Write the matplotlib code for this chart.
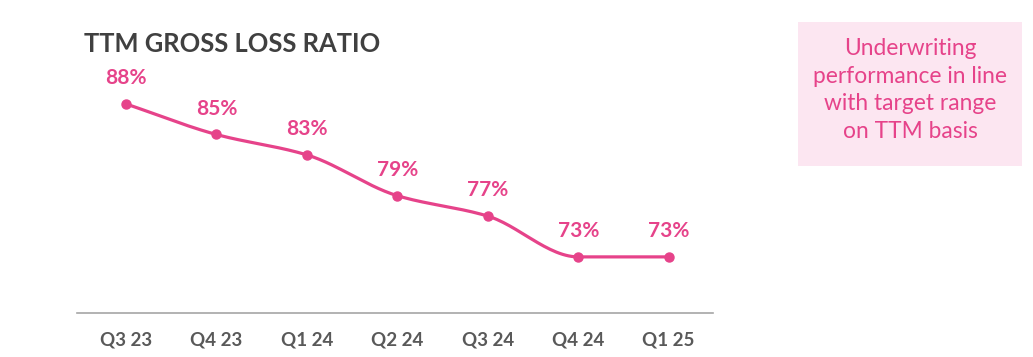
import numpy as np
import matplotlib
matplotlib.use("Agg")
import matplotlib.pyplot as plt
from matplotlib.patches import Rectangle

plt.rcParams['font.family'] = ['Lato', 'DejaVu Sans']

quarters = ['Q3 23', 'Q4 23', 'Q1 24', 'Q2 24', 'Q3 24', 'Q4 24', 'Q1 25']
loss_ratio = [88, 85, 83, 79, 77, 73, 73]

PINK = '#E6438A'
GREY_TEXT = '#595959'


def pchip(x, y, n=30):
    # monotone cubic, looks like the smoothed line in the slide
    x = np.asarray(x, float)
    y = np.asarray(y, float)
    h = np.diff(x)
    d = np.diff(y) / h
    m = np.zeros_like(y)
    for i in range(1, len(y) - 1):
        if d[i - 1] * d[i] > 0:
            w1 = 2 * h[i] + h[i - 1]
            w2 = h[i] + 2 * h[i - 1]
            m[i] = (w1 + w2) / (w1 / d[i - 1] + w2 / d[i])
    m[0] = d[0]
    m[-1] = d[-1]
    xs, ys = [], []
    for i in range(len(x) - 1):
        t = np.linspace(0, 1, n)
        h00 = 2 * t**3 - 3 * t**2 + 1
        h10 = t**3 - 2 * t**2 + t
        h01 = -2 * t**3 + 3 * t**2
        h11 = t**3 - t**2
        xs.append(x[i] + t * h[i])
        ys.append(h00 * y[i] + h10 * h[i] * m[i] + h01 * y[i + 1] + h11 * h[i] * m[i + 1])
    return np.concatenate(xs), np.concatenate(ys)


fig = plt.figure(figsize=(10.33, 3.57), dpi=100)
ax = fig.add_axes([77 / 1033, 1 - 313 / 357, (713 - 77) / 1033, (313 - 60) / 357])

pos = np.arange(len(quarters))
sx, sy = pchip(pos, loss_ratio)
ax.plot(sx, sy, color=PINK, lw=2.3, solid_capstyle='round')
ax.plot(pos, loss_ratio, 'o', color=PINK, ms=6.5)

for xi, v in zip(pos, loss_ratio):
    ax.annotate(f'{v}%', (xi, v), xytext=(0, 18.5), textcoords='offset points',
                ha='center', va='center', fontsize=15, fontweight='bold', color=PINK)

ax.set_xlim(-0.54, 6.49)
ax.set_ylim(67.5, 92.3)
ax.set_xticks(pos)
ax.set_xticklabels(quarters, fontsize=13.5, fontweight='bold', color=GREY_TEXT)
ax.tick_params(axis='x', length=0, pad=13)
ax.set_yticks([])
for s in ['top', 'right', 'left']:
    ax.spines[s].set_visible(False)
ax.spines['bottom'].set_color('#A6A6A6')
ax.spines['bottom'].set_linewidth(1.2)

fig.text(84 / 1033, 1 - 44 / 357, 'TTM GROSS LOSS RATIO', fontsize=18.4, fontweight='bold',
         color='#404040', ha='left', va='center')

# callout box on the right
fig.patches.append(Rectangle((798 / 1033, 1 - 166 / 357), 224 / 1033, 144 / 357,
                             transform=fig.transFigure, facecolor='#FCE6F1', edgecolor='none'))
fig.text(910 / 1033, 1 - 90 / 357,
         'Underwriting\nperformance in line\nwith target range\non TTM basis',
         fontsize=16.4, color=PINK, ha='center', va='center', linespacing=1.4)

fig.savefig('out.png', dpi=100)
